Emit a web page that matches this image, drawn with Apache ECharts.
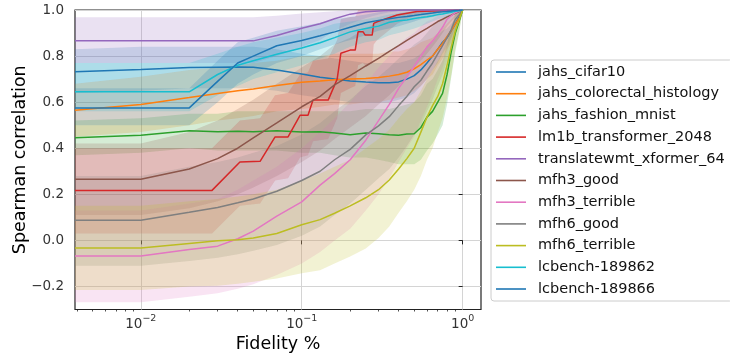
<!DOCTYPE html>
<html>
<head>
<meta charset="utf-8">
<script src="https://cdn.jsdelivr.net/npm/echarts@6/dist/echarts.min.js"></script>
<style>
  html, body { margin: 0; padding: 0; background: #fff; }
  #chart { width: 730px; height: 353px; }
</style>
</head>
<body>
<div id="chart"></div>
<script>
// fidelity grid shared by most curves
var fidelity = [0.0039, 0.01, 0.02, 0.03, 0.04, 0.05, 0.07, 0.1, 0.13, 0.16, 0.2, 0.25, 0.3, 0.35, 0.4, 0.45, 0.5, 0.55, 0.6, 0.65, 0.7, 0.75, 0.8, 0.85, 0.9, 0.95, 1.0];
var lm1bFidelity = [0.0039, 0.0277, 0.0413, 0.0551, 0.0683, 0.0822, 0.0976, 0.1094, 0.1175, 0.146, 0.166, 0.175, 0.2, 0.215, 0.224, 0.24, 0.248, 0.274, 0.28, 0.294, 0.392, 0.521, 1.0];

var cifar10Mean = [0.732, 0.742, 0.750, 0.752, 0.753, 0.752, 0.740, 0.722, 0.708, 0.700, 0.692, 0.687, 0.684, 0.684, 0.688, 0.700, 0.715, 0.740, 0.770, 0.800, 0.830, 0.860, 0.880, 0.910, 0.940, 0.970, 1.0];
var cifar10Lo = [0.64, 0.65, 0.66, 0.66, 0.66, 0.66, 0.65, 0.63, 0.62, 0.61, 0.60, 0.60, 0.60, 0.60, 0.61, 0.62, 0.64, 0.67, 0.70, 0.74, 0.77, 0.81, 0.84, 0.88, 0.92, 0.96, 1.0];
var cifar10Hi = [0.83, 0.84, 0.84, 0.84, 0.84, 0.84, 0.83, 0.81, 0.80, 0.79, 0.78, 0.77, 0.77, 0.77, 0.77, 0.78, 0.79, 0.81, 0.84, 0.86, 0.89, 0.91, 0.92, 0.94, 0.96, 0.98, 1.0];

var colorectalMean = [0.565, 0.590, 0.620, 0.638, 0.649, 0.657, 0.672, 0.686, 0.692, 0.697, 0.700, 0.703, 0.707, 0.713, 0.720, 0.730, 0.745, 0.763, 0.783, 0.800, 0.830, 0.855, 0.885, 0.910, 0.940, 0.965, 1.0];
var colorectalLo = [0.45, 0.47, 0.50, 0.52, 0.53, 0.54, 0.56, 0.57, 0.58, 0.59, 0.59, 0.60, 0.60, 0.61, 0.62, 0.63, 0.65, 0.67, 0.70, 0.72, 0.76, 0.79, 0.83, 0.86, 0.90, 0.94, 1.0];
var colorectalHi = [0.68, 0.71, 0.74, 0.75, 0.76, 0.77, 0.78, 0.80, 0.80, 0.81, 0.81, 0.81, 0.81, 0.82, 0.82, 0.83, 0.84, 0.86, 0.87, 0.88, 0.90, 0.92, 0.94, 0.96, 0.98, 0.99, 1.0];

var fashionMean = [0.445, 0.456, 0.476, 0.471, 0.474, 0.472, 0.476, 0.470, 0.472, 0.466, 0.458, 0.466, 0.463, 0.458, 0.456, 0.462, 0.463, 0.490, 0.535, 0.560, 0.600, 0.638, 0.720, 0.820, 0.900, 0.950, 1.0];
var fashionLo = [0.37, 0.38, 0.40, 0.39, 0.39, 0.39, 0.39, 0.38, 0.38, 0.37, 0.36, 0.36, 0.35, 0.34, 0.33, 0.33, 0.33, 0.35, 0.39, 0.42, 0.46, 0.50, 0.59, 0.71, 0.82, 0.90, 1.0];
var fashionHi = [0.52, 0.53, 0.55, 0.55, 0.56, 0.56, 0.56, 0.56, 0.56, 0.56, 0.56, 0.57, 0.57, 0.57, 0.58, 0.59, 0.60, 0.63, 0.68, 0.70, 0.74, 0.78, 0.85, 0.93, 0.98, 1.0, 1.0];

var lm1bMean = [0.217, 0.217, 0.340, 0.343, 0.449, 0.449, 0.543, 0.543, 0.609, 0.609, 0.700, 0.812, 0.826, 0.826, 0.906, 0.906, 0.891, 0.891, 0.942, 0.949, 0.978, 0.993, 1.0];
var lm1bLo = [0.03, 0.03, 0.15, 0.16, 0.26, 0.27, 0.36, 0.37, 0.43, 0.44, 0.53, 0.64, 0.66, 0.67, 0.76, 0.77, 0.76, 0.77, 0.85, 0.87, 0.94, 0.98, 1.0];
var lm1bHi = [0.40, 0.40, 0.52, 0.53, 0.63, 0.64, 0.72, 0.73, 0.78, 0.79, 0.87, 0.96, 0.97, 0.97, 1.0, 1.0, 1.0, 1.0, 1.0, 1.0, 1.0, 1.0, 1.0];

var translateMean = [0.866, 0.866, 0.866, 0.866, 0.866, 0.866, 0.889, 0.921, 0.940, 0.962, 0.982, 0.992, 0.996, 0.998, 0.999, 1.0, 1.0, 1.0, 1.0, 1.0, 1.0, 1.0, 1.0, 1.0, 1.0, 1.0, 1.0];
var translateLo = [0.77, 0.77, 0.77, 0.77, 0.77, 0.77, 0.80, 0.84, 0.87, 0.91, 0.94, 0.965, 0.98, 0.99, 0.995, 0.998, 1.0, 1.0, 1.0, 1.0, 1.0, 1.0, 1.0, 1.0, 1.0, 1.0, 1.0];
var translateHi = [0.968, 0.968, 0.968, 0.968, 0.968, 0.968, 0.975, 0.985, 0.99, 0.995, 1.0, 1.0, 1.0, 1.0, 1.0, 1.0, 1.0, 1.0, 1.0, 1.0, 1.0, 1.0, 1.0, 1.0, 1.0, 1.0, 1.0];

var mfh3GoodMean = [0.265, 0.265, 0.31, 0.355, 0.40, 0.445, 0.51, 0.58, 0.625, 0.675, 0.715, 0.757, 0.79, 0.82, 0.845, 0.868, 0.888, 0.905, 0.92, 0.935, 0.95, 0.96, 0.97, 0.978, 0.986, 0.993, 1.0];
var mfh3GoodLo = [0.11, 0.11, 0.14, 0.17, 0.20, 0.23, 0.28, 0.34, 0.39, 0.44, 0.49, 0.54, 0.59, 0.63, 0.67, 0.71, 0.75, 0.78, 0.81, 0.84, 0.87, 0.90, 0.93, 0.95, 0.97, 0.985, 1.0];
var mfh3GoodHi = [0.42, 0.42, 0.47, 0.52, 0.57, 0.61, 0.68, 0.75, 0.80, 0.85, 0.88, 0.92, 0.95, 0.97, 0.985, 0.99, 0.995, 1.0, 1.0, 1.0, 1.0, 1.0, 1.0, 1.0, 1.0, 1.0, 1.0];

var mfh3TerribleMean = [-0.068, -0.068, -0.04, -0.025, 0.007, 0.04, 0.105, 0.167, 0.24, 0.29, 0.35, 0.435, 0.52, 0.59, 0.66, 0.71, 0.755, 0.80, 0.84, 0.865, 0.895, 0.925, 0.96, 0.975, 0.988, 0.995, 1.0];
var mfh3TerribleLo = [-0.268, -0.268, -0.245, -0.23, -0.21, -0.19, -0.15, -0.10, -0.05, 0.0, 0.05, 0.13, 0.20, 0.27, 0.34, 0.40, 0.45, 0.52, 0.58, 0.64, 0.70, 0.75, 0.82, 0.88, 0.93, 0.96, 1.0];
var mfh3TerribleHi = [0.13, 0.13, 0.16, 0.18, 0.22, 0.26, 0.32, 0.40, 0.47, 0.53, 0.60, 0.68, 0.75, 0.80, 0.85, 0.88, 0.90, 0.93, 0.95, 0.96, 0.975, 0.98, 0.99, 0.995, 1.0, 1.0, 1.0];

var mfh6GoodMean = [0.087, 0.087, 0.122, 0.143, 0.163, 0.18, 0.213, 0.26, 0.30, 0.35, 0.395, 0.458, 0.497, 0.537, 0.585, 0.625, 0.667, 0.695, 0.735, 0.77, 0.81, 0.845, 0.88, 0.915, 0.96, 0.98, 1.0];
var mfh6GoodLo = [-0.11, -0.11, -0.09, -0.075, -0.06, -0.045, -0.02, 0.02, 0.06, 0.11, 0.16, 0.22, 0.27, 0.31, 0.36, 0.41, 0.46, 0.50, 0.56, 0.61, 0.67, 0.72, 0.78, 0.84, 0.91, 0.95, 1.0];
var mfh6GoodHi = [0.28, 0.28, 0.32, 0.34, 0.36, 0.38, 0.41, 0.46, 0.51, 0.56, 0.61, 0.67, 0.71, 0.75, 0.79, 0.82, 0.85, 0.87, 0.90, 0.93, 0.95, 0.96, 0.975, 0.985, 0.99, 1.0, 1.0];

var mfh6TerribleMean = [-0.033, -0.033, -0.013, -0.002, 0.003, 0.01, 0.03, 0.068, 0.09, 0.118, 0.15, 0.185, 0.22, 0.262, 0.31, 0.355, 0.40, 0.47, 0.535, 0.585, 0.625, 0.68, 0.76, 0.84, 0.91, 0.955, 1.0];
var mfh6TerribleLo = [-0.215, -0.215, -0.20, -0.197, -0.188, -0.18, -0.165, -0.143, -0.13, -0.10, -0.07, -0.035, 0.01, 0.06, 0.12, 0.17, 0.22, 0.28, 0.35, 0.40, 0.47, 0.53, 0.62, 0.72, 0.83, 0.91, 1.0];
var mfh6TerribleHi = [0.15, 0.15, 0.17, 0.18, 0.19, 0.20, 0.22, 0.26, 0.29, 0.32, 0.35, 0.40, 0.44, 0.48, 0.53, 0.57, 0.60, 0.65, 0.70, 0.74, 0.78, 0.82, 0.87, 0.91, 0.95, 0.98, 1.0];

var lc189862Mean = [0.645, 0.645, 0.645, 0.72, 0.76, 0.78, 0.808, 0.835, 0.858, 0.88, 0.905, 0.92, 0.93, 0.947, 0.953, 0.957, 0.963, 0.967, 0.971, 0.975, 0.98, 0.983, 0.987, 0.99, 0.994, 0.997, 1.0];
var lc189862Lo = [0.56, 0.56, 0.56, 0.63, 0.67, 0.70, 0.73, 0.76, 0.79, 0.81, 0.84, 0.86, 0.87, 0.89, 0.90, 0.91, 0.92, 0.93, 0.94, 0.95, 0.96, 0.965, 0.97, 0.98, 0.985, 0.99, 1.0];
var lc189862Hi = [0.77, 0.77, 0.77, 0.81, 0.84, 0.86, 0.88, 0.90, 0.92, 0.94, 0.95, 0.96, 0.97, 0.98, 0.985, 0.99, 0.99, 0.995, 1.0, 1.0, 1.0, 1.0, 1.0, 1.0, 1.0, 1.0, 1.0];

var lc189866Mean = [0.575, 0.575, 0.575, 0.69, 0.77, 0.80, 0.845, 0.868, 0.888, 0.905, 0.925, 0.945, 0.955, 0.962, 0.968, 0.972, 0.976, 0.98, 0.984, 0.987, 0.99, 0.992, 0.994, 0.996, 0.998, 0.999, 1.0];
var lc189866Lo = [0.50, 0.50, 0.50, 0.60, 0.68, 0.72, 0.77, 0.80, 0.83, 0.85, 0.87, 0.89, 0.91, 0.92, 0.93, 0.94, 0.95, 0.96, 0.965, 0.97, 0.975, 0.98, 0.985, 0.99, 0.995, 0.998, 1.0];
var lc189866Hi = [0.66, 0.66, 0.66, 0.78, 0.86, 0.88, 0.91, 0.93, 0.945, 0.96, 0.97, 0.98, 0.99, 0.995, 1.0, 1.0, 1.0, 1.0, 1.0, 1.0, 1.0, 1.0, 1.0, 1.0, 1.0, 1.0, 1.0];

// axis ticks
var xMajorTicks = [0.01, 0.1, 1];
var xMinorTicks = [0.004, 0.005, 0.006, 0.007, 0.008, 0.009, 0.02, 0.03, 0.04, 0.05, 0.06, 0.07, 0.08, 0.09, 0.2, 0.3, 0.4, 0.5, 0.6, 0.7, 0.8, 0.9];
var yTicks = [-0.2, 0, 0.2, 0.4, 0.6, 0.8, 1.0];

var colors = ['#1f77b4', '#ff7f0e', '#2ca02c', '#d62728', '#9467bd', '#8c564b', '#e377c2', '#7f7f7f', '#bcbd22', '#17becf', '#1f77b4'];

var curves = [
	{ name: 'jahs_cifar10', x: fidelity, mean: cifar10Mean, lo: cifar10Lo, hi: cifar10Hi },
	{ name: 'jahs_colorectal_histology', x: fidelity, mean: colorectalMean, lo: colorectalLo, hi: colorectalHi },
	{ name: 'jahs_fashion_mnist', x: fidelity, mean: fashionMean, lo: fashionLo, hi: fashionHi },
	{ name: 'lm1b_transformer_2048', x: lm1bFidelity, mean: lm1bMean, lo: lm1bLo, hi: lm1bHi },
	{ name: 'translatewmt_xformer_64', x: fidelity, mean: translateMean, lo: translateLo, hi: translateHi },
	{ name: 'mfh3_good', x: fidelity, mean: mfh3GoodMean, lo: mfh3GoodLo, hi: mfh3GoodHi },
	{ name: 'mfh3_terrible', x: fidelity, mean: mfh3TerribleMean, lo: mfh3TerribleLo, hi: mfh3TerribleHi },
	{ name: 'mfh6_good', x: fidelity, mean: mfh6GoodMean, lo: mfh6GoodLo, hi: mfh6GoodHi },
	{ name: 'mfh6_terrible', x: fidelity, mean: mfh6TerribleMean, lo: mfh6TerribleLo, hi: mfh6TerribleHi },
	{ name: 'lcbench-189862', x: fidelity, mean: lc189862Mean, lo: lc189862Lo, hi: lc189862Hi },
	{ name: 'lcbench-189866', x: fidelity, mean: lc189866Mean, lo: lc189866Lo, hi: lc189866Hi }
];

var FONT = 'DejaVu Sans';
var lg = function(v) { return Math.log10(v); };

// band polygon: drawn once (on the first item) from all points through api.coord
function bandRenderer(color) {
	return function(params, api) {
		if (params.dataIndex !== 0) return null;
		var n = params.dataInsideLength;
		var lower = [], upper = [];
		for (var j = 0; j < n; j++) {
			lower.push(api.coord([api.value(0, j), api.value(1, j)]));
			upper.push(api.coord([api.value(0, j), api.value(2, j)]));
		}
		return {
			type: 'polygon',
			shape: { points: lower.concat(upper.reverse()) },
			style: { fill: color, opacity: 0.2 },
			silent: true
		};
	};
}

var series = [];
curves.forEach(function(c, i) {
	series.push({
		type: 'custom', name: '_band' + i,
		renderItem: bandRenderer(colors[i]),
		data: c.x.map(function(f, j) { return [lg(f), c.lo[j], c.hi[j]]; }),
		encode: { x: 0, y: [1, 2] },
		clip: true, silent: true, z: 1
	});
});
curves.forEach(function(c, i) {
	series.push({
		type: 'line', name: c.name,
		data: c.x.map(function(f, j) { return [lg(f), c.mean[j]]; }),
		symbol: 'none', z: 3,
		itemStyle: { color: colors[i] },
		lineStyle: { color: colors[i], width: 1.5 }
	});
});

var xMin = lg(0.0039), xMax = lg(1.3);

var chart = echarts.init(document.getElementById('chart'), null, { renderer: 'canvas' });
chart.setOption({
	animation: false,
	textStyle: { fontFamily: FONT },
	grid: {
		left: 75, right: 249, top: 10, bottom: 43.5,
		outerBoundsMode: 'none',
		show: true, borderColor: '#222', borderWidth: 1.2, backgroundColor: 'transparent'
	},
	legend: {
		orient: 'vertical', left: 491, top: 60,
		data: curves.map(function(c) { return c.name; }),
		icon: 'rect', itemWidth: 30, itemHeight: 1.6, itemGap: 5.7,
		padding: [4, 8, 4, 5],
		borderColor: '#cccccc', borderWidth: 1, borderRadius: 3,
		textStyle: { fontFamily: FONT, fontSize: 14.5, color: '#111', lineHeight: 16, padding: [0, 0, 0, 7] }
	},
	xAxis: [{
		type: 'value', min: xMin, max: xMax,
		name: 'Fidelity %', nameLocation: 'middle', nameGap: 26, nameMoveOverlap: false,
		nameTextStyle: { fontFamily: FONT, fontSize: 17.5, color: '#000' },
		axisLine: { show: false },
		axisTick: { customValues: xMajorTicks.map(lg), length: 4, lineStyle: { color: '#222', width: 1 } },
		axisLabel: {
			customValues: xMajorTicks.map(lg), margin: 4,
			formatter: function(v) {
				var e = Math.round(v);
				return '{b|10}{s|' + (e < 0 ? '\u2212' + (-e) : e) + '}';
			},
			rich: {
				b: { fontFamily: FONT, fontSize: 13.5, color: '#333', lineHeight: 18, verticalAlign: 'bottom' },
				s: { fontFamily: FONT, fontSize: 9.5, color: '#333', lineHeight: 11, verticalAlign: 'top' }
			}
		},
		splitLine: { show: true, lineStyle: { color: '#d4d4d4', width: 1 } }
	}, {
		type: 'value', min: xMin, max: xMax, position: 'bottom',
		axisLine: { show: false },
		axisTick: { customValues: xMinorTicks.map(lg), length: 2, lineStyle: { color: '#222', width: 0.8 } },
		axisLabel: { show: false },
		splitLine: { show: false }
	}],
	yAxis: {
		type: 'value', min: -0.3, max: 1.0,
		name: 'Spearman correlation', nameLocation: 'middle', nameGap: 46, nameMoveOverlap: false,
		nameTextStyle: { fontFamily: FONT, fontSize: 17.5, color: '#000' },
		axisLine: { show: false },
		axisTick: { customValues: yTicks, length: 4, lineStyle: { color: '#222', width: 1 } },
		axisLabel: {
			customValues: yTicks, margin: 11,
			fontFamily: FONT, fontSize: 13.5, color: '#333',
			formatter: function(v) {
				return (v < -1e-9 ? '\u2212' : '') + Math.abs(v).toFixed(1);
			}
		},
		splitLine: { show: true, lineStyle: { color: '#d4d4d4', width: 1 } }
	},
	series: series
});
</script>
</body>
</html>
